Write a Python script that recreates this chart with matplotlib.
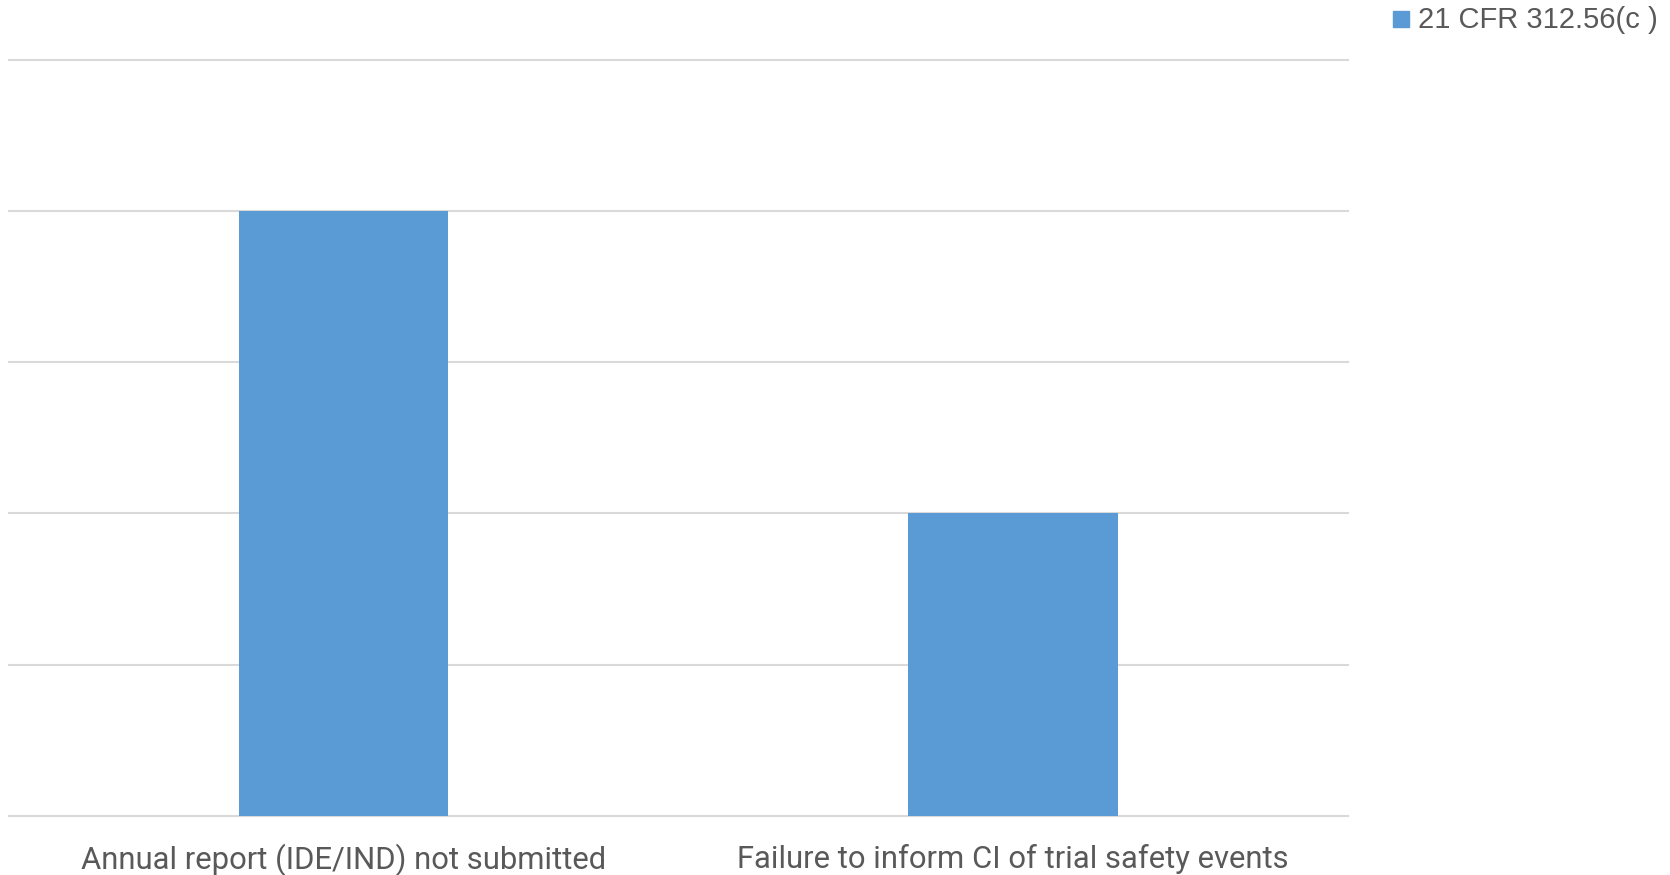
import matplotlib
matplotlib.use("Agg")
import matplotlib.pyplot as plt
from matplotlib.patches import Rectangle

categories = ["Annual report (IDE/IND) not submitted",
              "Failure to inform CI of trial safety events"]
values = [4, 2]
series_name = "21 CFR 312.56(c )"
y_ticks = [0, 1, 2, 3, 4, 5]

bar_color = "#5B9BD5"
text_color = "#595959"
grid_color = "#D9D9D9"

fig = plt.figure(figsize=(16.7, 8.75), dpi=100)
ax = fig.add_axes([8.5 / 1670, 59.2 / 875, 1339.5 / 1670, 756.2 / 875])

x = list(range(len(categories)))
ax.bar(x, values, width=0.313, color=bar_color, zorder=3)

ax.set_xlim(-0.5, len(categories) - 0.5)
ax.set_ylim(0, 5)
for t in y_ticks:
    ax.axhline(t, color=grid_color, lw=1.5, zorder=1, clip_on=False)

for s in ax.spines.values():
    s.set_visible(False)
ax.set_yticks([])
ax.set_xticks(x)
ax.set_xticklabels(categories, fontsize=22.3, color=text_color, family="Roboto")
ax.tick_params(axis="x", length=0, pad=20)

# legend entry in the top right corner
fig.patches.append(Rectangle((1393 / 1670, 1 - 27 / 875), 16 / 1670, 16 / 875,
                             transform=fig.transFigure, color=bar_color))
fig.text(1418 / 1670, 1 - 20 / 875, series_name, fontsize=21, color=text_color,
         family="Liberation Sans", va="center", ha="left")

fig.savefig("out.png", dpi=100)
